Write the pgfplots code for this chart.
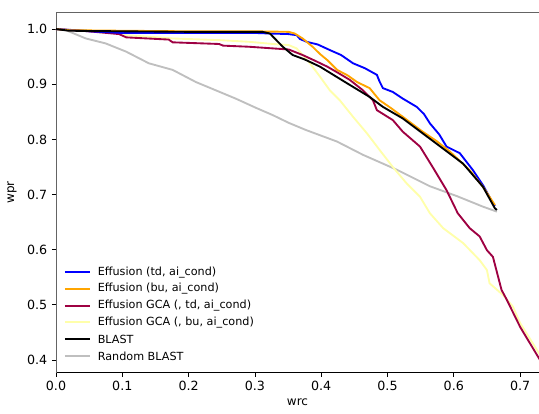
\documentclass[border=0pt]{standalone}
\usepackage{pgfplots}
\pgfplotsset{compat=1.18}
\usepackage{fontspec}
\setmainfont{DejaVu Sans}
\definecolor{cblue}{RGB}{0,0,255}
\definecolor{corange}{RGB}{255,165,0}
\definecolor{cred}{RGB}{158,1,66}
\definecolor{cyellow}{RGB}{255,255,170}
\definecolor{cgray}{RGB}{191,191,191}
\definecolor{spine}{RGB}{100,100,100}
\begin{document}
\begin{tikzpicture}
\useasboundingbox (-42pt,-31pt) rectangle (362.25pt,279.5pt);
\begin{axis}[
  at={(0,0)}, anchor=south west,
  scale only axis, width=362.25pt, height=270.5pt,
  xmin=0, xmax=0.7285, ymin=0.377, ymax=1.031,
  axis x line*=bottom, axis y line*=left,
  x axis line style={black, -}, y axis line style={spine, -},
  xtick={0,0.1,...,0.71}, ytick={0.4,0.5,...,1.01},
  xticklabel style={/pgf/number format/.cd, fixed, fixed zerofill, precision=1},
  yticklabel style={/pgf/number format/.cd, fixed, fixed zerofill, precision=1},
  /pgf/number format/assume math mode=true,
  tick align=outside, tick style={black, line width=0.6pt}, major tick length=3pt,
  ticklabel style={font=\fontsize{9.5}{11}\selectfont},
  xlabel={wrc}, ylabel={wpr},
  label style={font=\fontsize{9}{11}\selectfont},
  xlabel style={at={(rel axis cs:0.5,0)}, anchor=north, yshift=-16pt},
  ylabel style={at={(rel axis cs:0,0.5)}, anchor=south, xshift=0pt, yshift=26pt},
  clip=true,
]
\addplot[color=cgray, line width=1.4pt] coordinates {
(0,1.0) (0.015,0.998) (0.045,0.983) (0.075,0.974) (0.106,0.959) (0.140,0.938) (0.176,0.926)
(0.211,0.904) (0.241,0.889) (0.271,0.874) (0.302,0.857) (0.327,0.844) (0.351,0.830)
(0.377,0.817) (0.424,0.796) (0.463,0.772) (0.514,0.745) (0.564,0.715) (0.605,0.697)
(0.644,0.678) (0.665,0.669)};
\addplot[color=cyellow, line width=1.4pt] coordinates {
(0,1.0) (0.05,0.996) (0.101,0.992) (0.106,0.989) (0.176,0.983) (0.246,0.980) (0.291,0.977)
(0.327,0.973) (0.351,0.971) (0.363,0.965) (0.372,0.953) (0.383,0.938) (0.398,0.914)
(0.413,0.889) (0.428,0.871) (0.448,0.841) (0.469,0.811) (0.488,0.781) (0.508,0.750)
(0.529,0.720) (0.549,0.696) (0.564,0.666) (0.584,0.639) (0.614,0.612) (0.639,0.581)
(0.650,0.563) (0.654,0.539) (0.674,0.518) (0.689,0.497) (0.700,0.467) (0.727,0.415) (0.74,0.39)};
\addplot[color=cred, line width=1.4pt] coordinates {
(0,1.0) (0.03,0.998) (0.095,0.991) (0.106,0.985) (0.17,0.981) (0.176,0.976) (0.246,0.973)
(0.252,0.970) (0.291,0.968) (0.327,0.965) (0.351,0.963) (0.372,0.953) (0.39,0.943) (0.409,0.932)
(0.425,0.921) (0.443,0.908) (0.463,0.889) (0.478,0.871) (0.484,0.853) (0.508,0.835) (0.523,0.814)
(0.549,0.787) (0.568,0.750) (0.589,0.708) (0.606,0.666) (0.624,0.639) (0.639,0.624)
(0.650,0.599) (0.659,0.587) (0.672,0.527) (0.680,0.509) (0.700,0.460) (0.727,0.406) (0.74,0.38)};
\addplot[color=cblue, line width=1.4pt] coordinates {
(0,1.0) (0.05,0.996) (0.1,0.993) (0.2,0.993) (0.3,0.993) (0.3226,0.992) (0.35,0.991) (0.363,0.989)
(0.368,0.982) (0.378,0.977) (0.395,0.972) (0.413,0.962) (0.43,0.953) (0.448,0.938) (0.466,0.929) (0.484,0.917)
(0.488,0.905) (0.493,0.893) (0.508,0.886) (0.523,0.874)
(0.544,0.859) (0.555,0.846) (0.564,0.829) (0.578,0.809) (0.589,0.787) (0.609,0.775) (0.629,0.744) (0.645,0.715) (0.659,0.684) (0.662,0.679)};
\addplot[color=corange, line width=1.4pt] coordinates {
(0,1.0) (0.02,0.998) (0.1,0.997) (0.2,0.996) (0.3,0.996) (0.351,0.995) (0.36,0.992)
(0.372,0.983) (0.387,0.968) (0.398,0.955) (0.409,0.944) (0.424,0.926) (0.44,0.916) (0.454,0.904) (0.473,0.893)
(0.488,0.871) (0.505,0.857) (0.523,0.841) (0.553,0.814) (0.574,0.797) (0.594,0.778) (0.624,0.744) (0.644,0.714) (0.662,0.681)};
\addplot[color=black, line width=1.4pt] coordinates {
(0,1.0) (0.02,0.997) (0.1,0.996) (0.2,0.995) (0.3116,0.995) (0.3226,0.992) (0.342,0.968)
(0.357,0.953) (0.375,0.945) (0.398,0.932) (0.4387,0.902) (0.473,0.877) (0.493,0.859) (0.523,0.838)
(0.553,0.811) (0.583,0.784) (0.614,0.756) (0.644,0.714) (0.662,0.675) (0.665,0.672)};
\draw[draw=cblue, line width=1.5pt] (rel axis cs:0.0186,0.278) -- (rel axis cs:0.0704,0.278);
\draw[draw=corange, line width=1.5pt] (rel axis cs:0.0186,0.232) -- (rel axis cs:0.0704,0.232);
\draw[draw=cred, line width=1.5pt] (rel axis cs:0.0186,0.186) -- (rel axis cs:0.0704,0.186);
\draw[draw=cyellow, line width=1.5pt] (rel axis cs:0.0186,0.140) -- (rel axis cs:0.0704,0.140);
\draw[draw=black, line width=1.5pt] (rel axis cs:0.0186,0.093) -- (rel axis cs:0.0704,0.093);
\draw[draw=cgray, line width=1.5pt] (rel axis cs:0.0186,0.046) -- (rel axis cs:0.0704,0.046);
\begin{scope}[every node/.style={anchor=west, inner sep=0pt, font=\fontsize{8.4}{10}\selectfont}]
\node at (rel axis cs:0.086,0.278) {Effusion (td, ai\_cond)};
\node at (rel axis cs:0.086,0.232) {Effusion (bu, ai\_cond)};
\node at (rel axis cs:0.086,0.186) {Effusion GCA (, td, ai\_cond)};
\node at (rel axis cs:0.086,0.140) {Effusion GCA (, bu, ai\_cond)};
\node at (rel axis cs:0.086,0.093) {BLAST};
\node at (rel axis cs:0.086,0.046) {Random BLAST};
\end{scope}
\end{axis}
\draw[spine, line width=0.6pt] (0,270.5pt) -- (362.25pt,270.5pt);
\end{tikzpicture}
\end{document}
